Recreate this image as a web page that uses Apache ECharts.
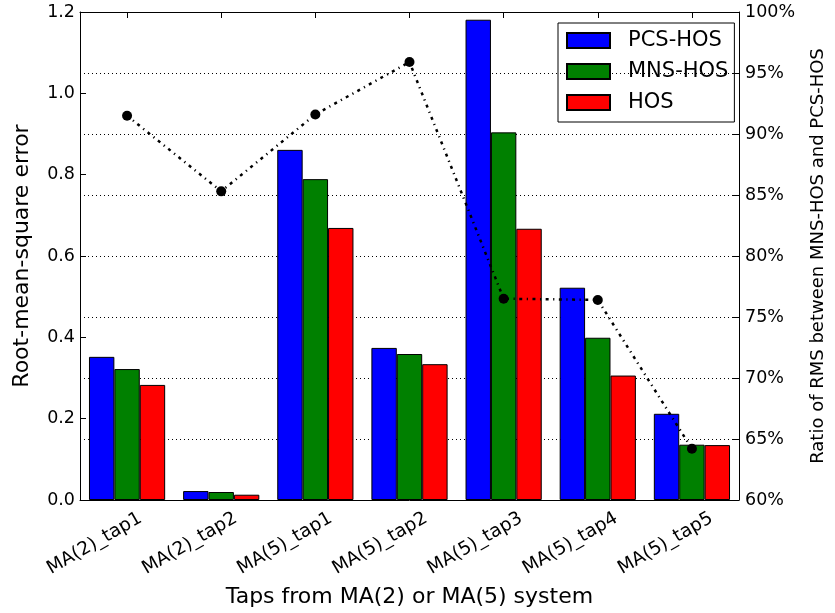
<!DOCTYPE html>
<html>
<head>
<meta charset="utf-8">
<script src="https://cdn.jsdelivr.net/npm/echarts@6/dist/echarts.min.js"></script>
<style>
  html, body { margin: 0; padding: 0; background: #fff; }
  #chart { width: 835px; height: 613px; }
</style>
</head>
<body>
<div id="chart"></div>
<script>
// Taps of the MA(2) and MA(5) systems
const categories = ['MA(2)_tap1', 'MA(2)_tap2', 'MA(5)_tap1', 'MA(5)_tap2', 'MA(5)_tap3', 'MA(5)_tap4', 'MA(5)_tap5'];

// Root-mean-square error per method
const pcsHos = [0.352, 0.022, 0.861, 0.374, 1.181, 0.522, 0.212];
const mnsHos = [0.322, 0.0196, 0.789, 0.359, 0.904, 0.399, 0.136];
const hos    = [0.283, 0.013, 0.669, 0.334, 0.667, 0.306, 0.135];

// Ratio of RMS between MNS-HOS and PCS-HOS, in percent
const ratio = [91.5, 85.3, 91.6, 95.9, 76.5, 76.4, 64.2];

// Axis tick settings
const rmsTicks = { min: 0, max: 1.2, interval: 0.2 };
const ratioTicks = { min: 60, max: 100, interval: 5 };

const FONT = 'DejaVu Sans';
const BLACK = '#000';

const chart = echarts.init(document.getElementById('chart'), null, { renderer: 'canvas' });

const barStyle = (color) => ({ color: color, borderColor: BLACK, borderWidth: 1 });

chart.setOption({
  animation: false,
  backgroundColor: '#fff',
  textStyle: { fontFamily: FONT, color: BLACK },
  grid: [
    { left: 80, right: 89, top: 12, bottom: 111, containLabel: false },
    // offset grid carrying only the rotated category labels
    { left: 93, right: 76, top: 12, bottom: 111, containLabel: false }
  ],
  legend: {
    orient: 'vertical',
    left: 558,
    top: 23,
    padding: [7, 6, 9, 8],
    itemWidth: 43,
    itemHeight: 15,
    itemGap: 10,
    icon: 'rect',
    borderColor: BLACK,
    borderWidth: 1,
    borderRadius: 0,
    backgroundColor: 'transparent',
    data: ['PCS-HOS', 'MNS-HOS', 'HOS'],
    textStyle: { fontFamily: FONT, fontSize: 21, color: BLACK, padding: [0, 0, 0, 13] }
  },
  xAxis: [
    {
      type: 'category',
      gridIndex: 0,
      position: 'bottom',
      data: categories,
      boundaryGap: true,
      axisLine: { show: true, lineStyle: { color: BLACK, width: 1 } },
      axisTick: { show: true, inside: true, alignWithLabel: true, length: 6, lineStyle: { color: BLACK } },
      axisLabel: { show: false },
      splitLine: { show: false },
      name: 'Taps from MA(2) or MA(5) system',
      nameLocation: 'middle',
      nameGap: 86,
      nameTextStyle: { fontFamily: FONT, fontSize: 22, color: BLACK }
    },
    {
      type: 'category',
      gridIndex: 0,
      position: 'top',
      data: categories,
      boundaryGap: true,
      axisLine: { show: true, lineStyle: { color: BLACK, width: 1 } },
      axisTick: { show: true, inside: true, alignWithLabel: true, length: 6, lineStyle: { color: BLACK } },
      axisLabel: { show: false },
      splitLine: { show: false }
    },
    {
      type: 'category',
      gridIndex: 1,
      position: 'bottom',
      data: categories,
      boundaryGap: true,
      axisLine: { show: false },
      axisTick: { show: false },
      splitLine: { show: false },
      axisLabel: {
        show: true,
        interval: 0,
        rotate: 30,
        margin: 15,
        fontFamily: FONT,
        fontSize: 18.5,
        color: BLACK
      }
    }
  ],
  yAxis: [
    {
      type: 'value',
      gridIndex: 0,
      position: 'left',
      min: rmsTicks.min,
      max: rmsTicks.max,
      interval: rmsTicks.interval,
      axisLine: { show: true, lineStyle: { color: BLACK, width: 1 } },
      axisTick: { show: true, inside: true, length: 6, lineStyle: { color: BLACK } },
      axisLabel: {
        margin: 5,
        fontFamily: FONT,
        fontSize: 17.5,
        color: BLACK,
        formatter: (v) => v.toFixed(1)
      },
      splitLine: { show: false },
      name: 'Root-mean-square error',
      nameLocation: 'middle',
      nameGap: 47,
      nameTextStyle: { fontFamily: FONT, fontSize: 22, color: BLACK }
    },
    {
      type: 'value',
      gridIndex: 0,
      position: 'right',
      min: ratioTicks.min,
      max: ratioTicks.max,
      interval: ratioTicks.interval,
      axisLine: { show: true, lineStyle: { color: BLACK, width: 1 } },
      axisTick: { show: true, inside: true, length: 6, lineStyle: { color: BLACK } },
      axisLabel: {
        margin: 6,
        fontFamily: FONT,
        fontSize: 17.5,
        color: BLACK,
        formatter: (v) => v + '%'
      },
      splitLine: { show: true, lineStyle: { color: BLACK, width: 1, type: [1, 3] } },
      name: 'Ratio of RMS between MNS-HOS and PCS-HOS',
      nameLocation: 'middle',
      nameRotate: 90,
      nameGap: 70,
      nameTextStyle: { fontFamily: FONT, fontSize: 18, color: BLACK }
    },
    {
      type: 'value',
      gridIndex: 1,
      show: false,
      min: 0,
      max: 1
    }
  ],
  series: [
    {
      name: 'PCS-HOS',
      type: 'bar',
      xAxisIndex: 0,
      yAxisIndex: 0,
      data: pcsHos,
      barWidth: 25.4,
      barGap: '0%',
      itemStyle: barStyle('#0000ff')
    },
    {
      name: 'MNS-HOS',
      type: 'bar',
      xAxisIndex: 0,
      yAxisIndex: 0,
      data: mnsHos,
      barWidth: 25.4,
      barGap: '0%',
      itemStyle: barStyle('#008000')
    },
    {
      name: 'HOS',
      type: 'bar',
      xAxisIndex: 0,
      yAxisIndex: 0,
      data: hos,
      barWidth: 25.4,
      barGap: '0%',
      itemStyle: barStyle('#ff0000')
    },
    {
      name: 'Ratio',
      type: 'line',
      xAxisIndex: 0,
      yAxisIndex: 1,
      data: ratio,
      z: 5,
      symbol: 'circle',
      symbolSize: 10,
      itemStyle: { color: BLACK },
      lineStyle: { color: BLACK, width: 2.5, type: [3, 4.5, 1.2, 4.5], cap: 'butt' }
    }
  ]
});
</script>
</body>
</html>
